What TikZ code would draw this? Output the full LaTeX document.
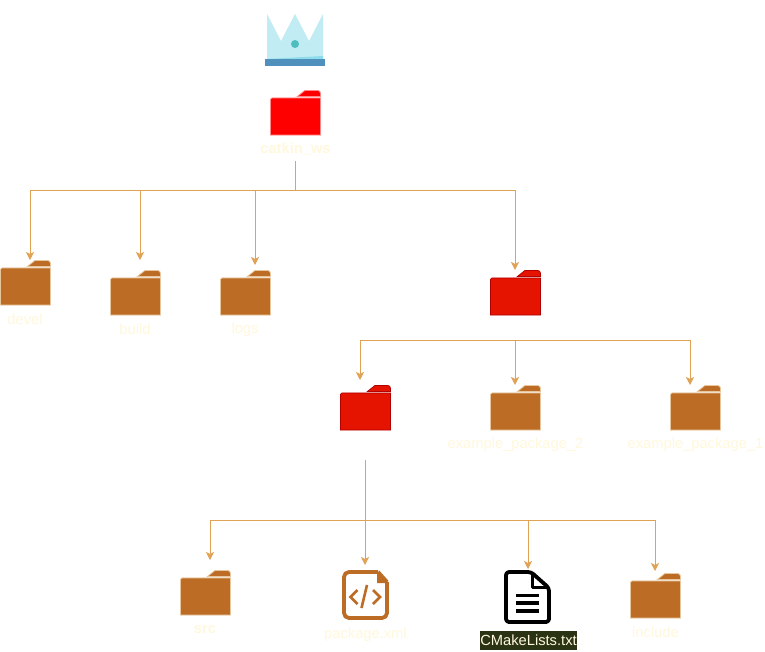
\documentclass[tikz,border=0pt]{standalone}
\usepackage{fontspec}
\setmainfont{Liberation Sans}
\usetikzlibrary{arrows.meta}
\definecolor{conn}{HTML}{E0A255}
\definecolor{lab}{HTML}{FFF8DC}
\definecolor{brownf}{HTML}{BC6C25}
\definecolor{browns}{HTML}{E8C79E}
\definecolor{redf}{HTML}{E51400}
\definecolor{reds}{HTML}{B20000}
\definecolor{rootf}{HTML}{FF0000}
\definecolor{roots}{HTML}{FF8A8A}
\tikzset{
  wire/.style={draw=conn,line width=0.9pt},
  arrow/.style={wire,-{Stealth[length=8pt,width=8pt,inset=2pt]}},
  lbl/.style={text=lab,font=\fontsize{14.7}{16}\selectfont,inner sep=0pt,anchor=center},
  blbl/.style={lbl,font=\fontsize{14.7}{16}\selectfont\bfseries},
  iconbox/.style={inner sep=0pt,minimum width=51pt,minimum height=45pt},
}
% name, left x, top y, fill, stroke
\newcommand{\folderic}[5]{%
  \fill[#4,draw=#5,line width=0.8pt] (#2+0.4,#3+9.5) arc[start angle=180,end angle=90,radius=1.6pt] -- (#2+50.5,#3+7.9) -- (#2+50.5,#3+45) -- (#2+0.4,#3+45) -- cycle;
  \fill[#4,draw=#5,line width=0.8pt] (#2+27.5,#3+6.4) -- (#2+35,#3+0.4) -- (#2+47.5,#3+0.4) arc[start angle=90,end angle=0,radius=3pt] -- (#2+50.5,#3+6.4) -- cycle;
  \node[iconbox] (#1) at (#2+25.5,#3+22.5) {};
}
\begin{document}
\begin{tikzpicture}[x=1pt,y=-1pt]
\useasboundingbox (0,0) rectangle (765,651);
% crown
\fill[fill=white] (0,0) rectangle (765,651);
\fill[fill={rgb,255:red,194;green,236;blue,244}] (267,14) -- (281,41) -- (295,14) -- (309,41) -- (323,14) -- (323,59) -- (267,59) -- cycle;
\fill[fill={rgb,255:red,140;green,220;blue,236}] (267,59) -- (323,56) -- (323,59) -- cycle;
\fill[fill={rgb,255:red,79;green,144;blue,188}] (265,59) rectangle (325,66);
\fill[fill={rgb,255:red,77;green,189;blue,189}] (295,44) circle[radius=4pt];
% folders
\folderic{root}{270}{90}{rootf}{roots}
\folderic{devel}{0}{260}{brownf}{browns}
\folderic{build}{110}{270}{brownf}{browns}
\folderic{logs}{220}{270}{brownf}{browns}
\folderic{srcdir}{490}{270}{redf}{reds}
\folderic{pkg}{340}{385}{redf}{reds}
\folderic{pkgtwo}{490}{385}{brownf}{browns}
\folderic{pkgone}{670}{385}{brownf}{browns}
\folderic{src}{180}{570}{brownf}{browns}
\folderic{incl}{630}{573}{brownf}{browns}
% xml icon
\node[iconbox,minimum height=50pt] (xml) at (365.5,595) {};
\draw[brownf,line width=3.8pt,line join=round,rounded corners=5pt] (378,572) -- (344,572) -- (344,618) -- (387,618) -- (387,582);
\draw[brownf,line width=3.8pt,line join=round] (387,582) -- (378,572);
\fill[brownf] (377,571) -- (389,583) -- (377,583) -- cycle;
\draw[brownf,line width=2.6pt] (357.5,590) -- (350.5,597) -- (357.5,604);
\draw[brownf,line width=2.6pt] (373,590) -- (380,597) -- (373,604);
\draw[brownf,line width=2.6pt] (367,585) -- (361.5,608);
% text file icon
\node[iconbox,minimum width=47pt,minimum height=54pt] (cmake) at (527.5,597) {};
\draw[black,line width=3.8pt,line join=round,rounded corners=3pt] (531,572) -- (506,572) -- (506,622) -- (549,622) -- (549,588) -- cycle;
\draw[black,line width=2.8pt,line join=round] (532.5,572) -- (532.5,587.5) -- (549,587.5);
\draw[black,line width=3.2pt] (516,595.5) -- (539,595.5);
\draw[black,line width=3.2pt] (516,603) -- (539,603);
\draw[black,line width=3.2pt] (516,611) -- (539,611);
% labels
\node[blbl] (lroot) at (295.5,149.5) {catkin\_ws};
\node[lbl] (ldevel) at (25,319.5) {devel};
\node[lbl] (lbuild) at (135,329.5) {build};
\node[lbl] (llogs) at (245,329.5) {logs};
\node[lbl] (ltwo) at (515.5,444.5) {example\_package\_2};
\node[lbl] (lone) at (695.5,444.5) {example\_package\_1};
\node[blbl] (lsrc) at (205,629.5) {src};
\node[lbl] (lxml) at (365.5,634.5) {package.xml};
\node[fill={rgb,255:red,42;green,51;blue,20},text=lab,font=\fontsize{14.7}{16}\selectfont,inner sep=0pt,minimum width=97pt,minimum height=19pt] (lcm) at (528.5,640.5) {CMakeLists.txt};
\node[lbl] (linc) at (655.5,632.5) {include};
% named connector ends
\coordinate (a0) at (295,161);
\coordinate (a1) at (295,190);
\coordinate (t1) at (30,260);
\coordinate (t2) at (140,260);
\coordinate (t3) at (255,265);
\coordinate (t4) at (515,270);
\coordinate (b1) at (515,340);
\coordinate (u1) at (360,380);
\coordinate (u2) at (515,385);
\coordinate (u3) at (690,385);
\coordinate (c0) at (365,460);
\coordinate (c1) at (365,520);
\coordinate (v1) at (210,560);
\coordinate (v2) at (365,565);
\coordinate (v3) at (528,569);
\coordinate (v4) at (655,571);
% connectors
\draw[wire] (a0) -- (a1);
\draw[arrow] (a1) -| (t1);
\draw[arrow] (a1) -| (t2);
\draw[arrow] (a1) -| (t3);
\draw[arrow] (a1) -| (t4);
\draw[arrow] (b1) -| (u1);
\draw[arrow] (b1) -- (u2);
\draw[arrow] (b1) -| (u3);
\draw[wire] (c0) -- (c1);
\draw[arrow] (c1) -| (v1);
\draw[arrow] (c1) -- (v2);
\draw[arrow] (c1) -| (v3);
\draw[arrow] (c1) -| (v4);
\end{tikzpicture}
\end{document}
